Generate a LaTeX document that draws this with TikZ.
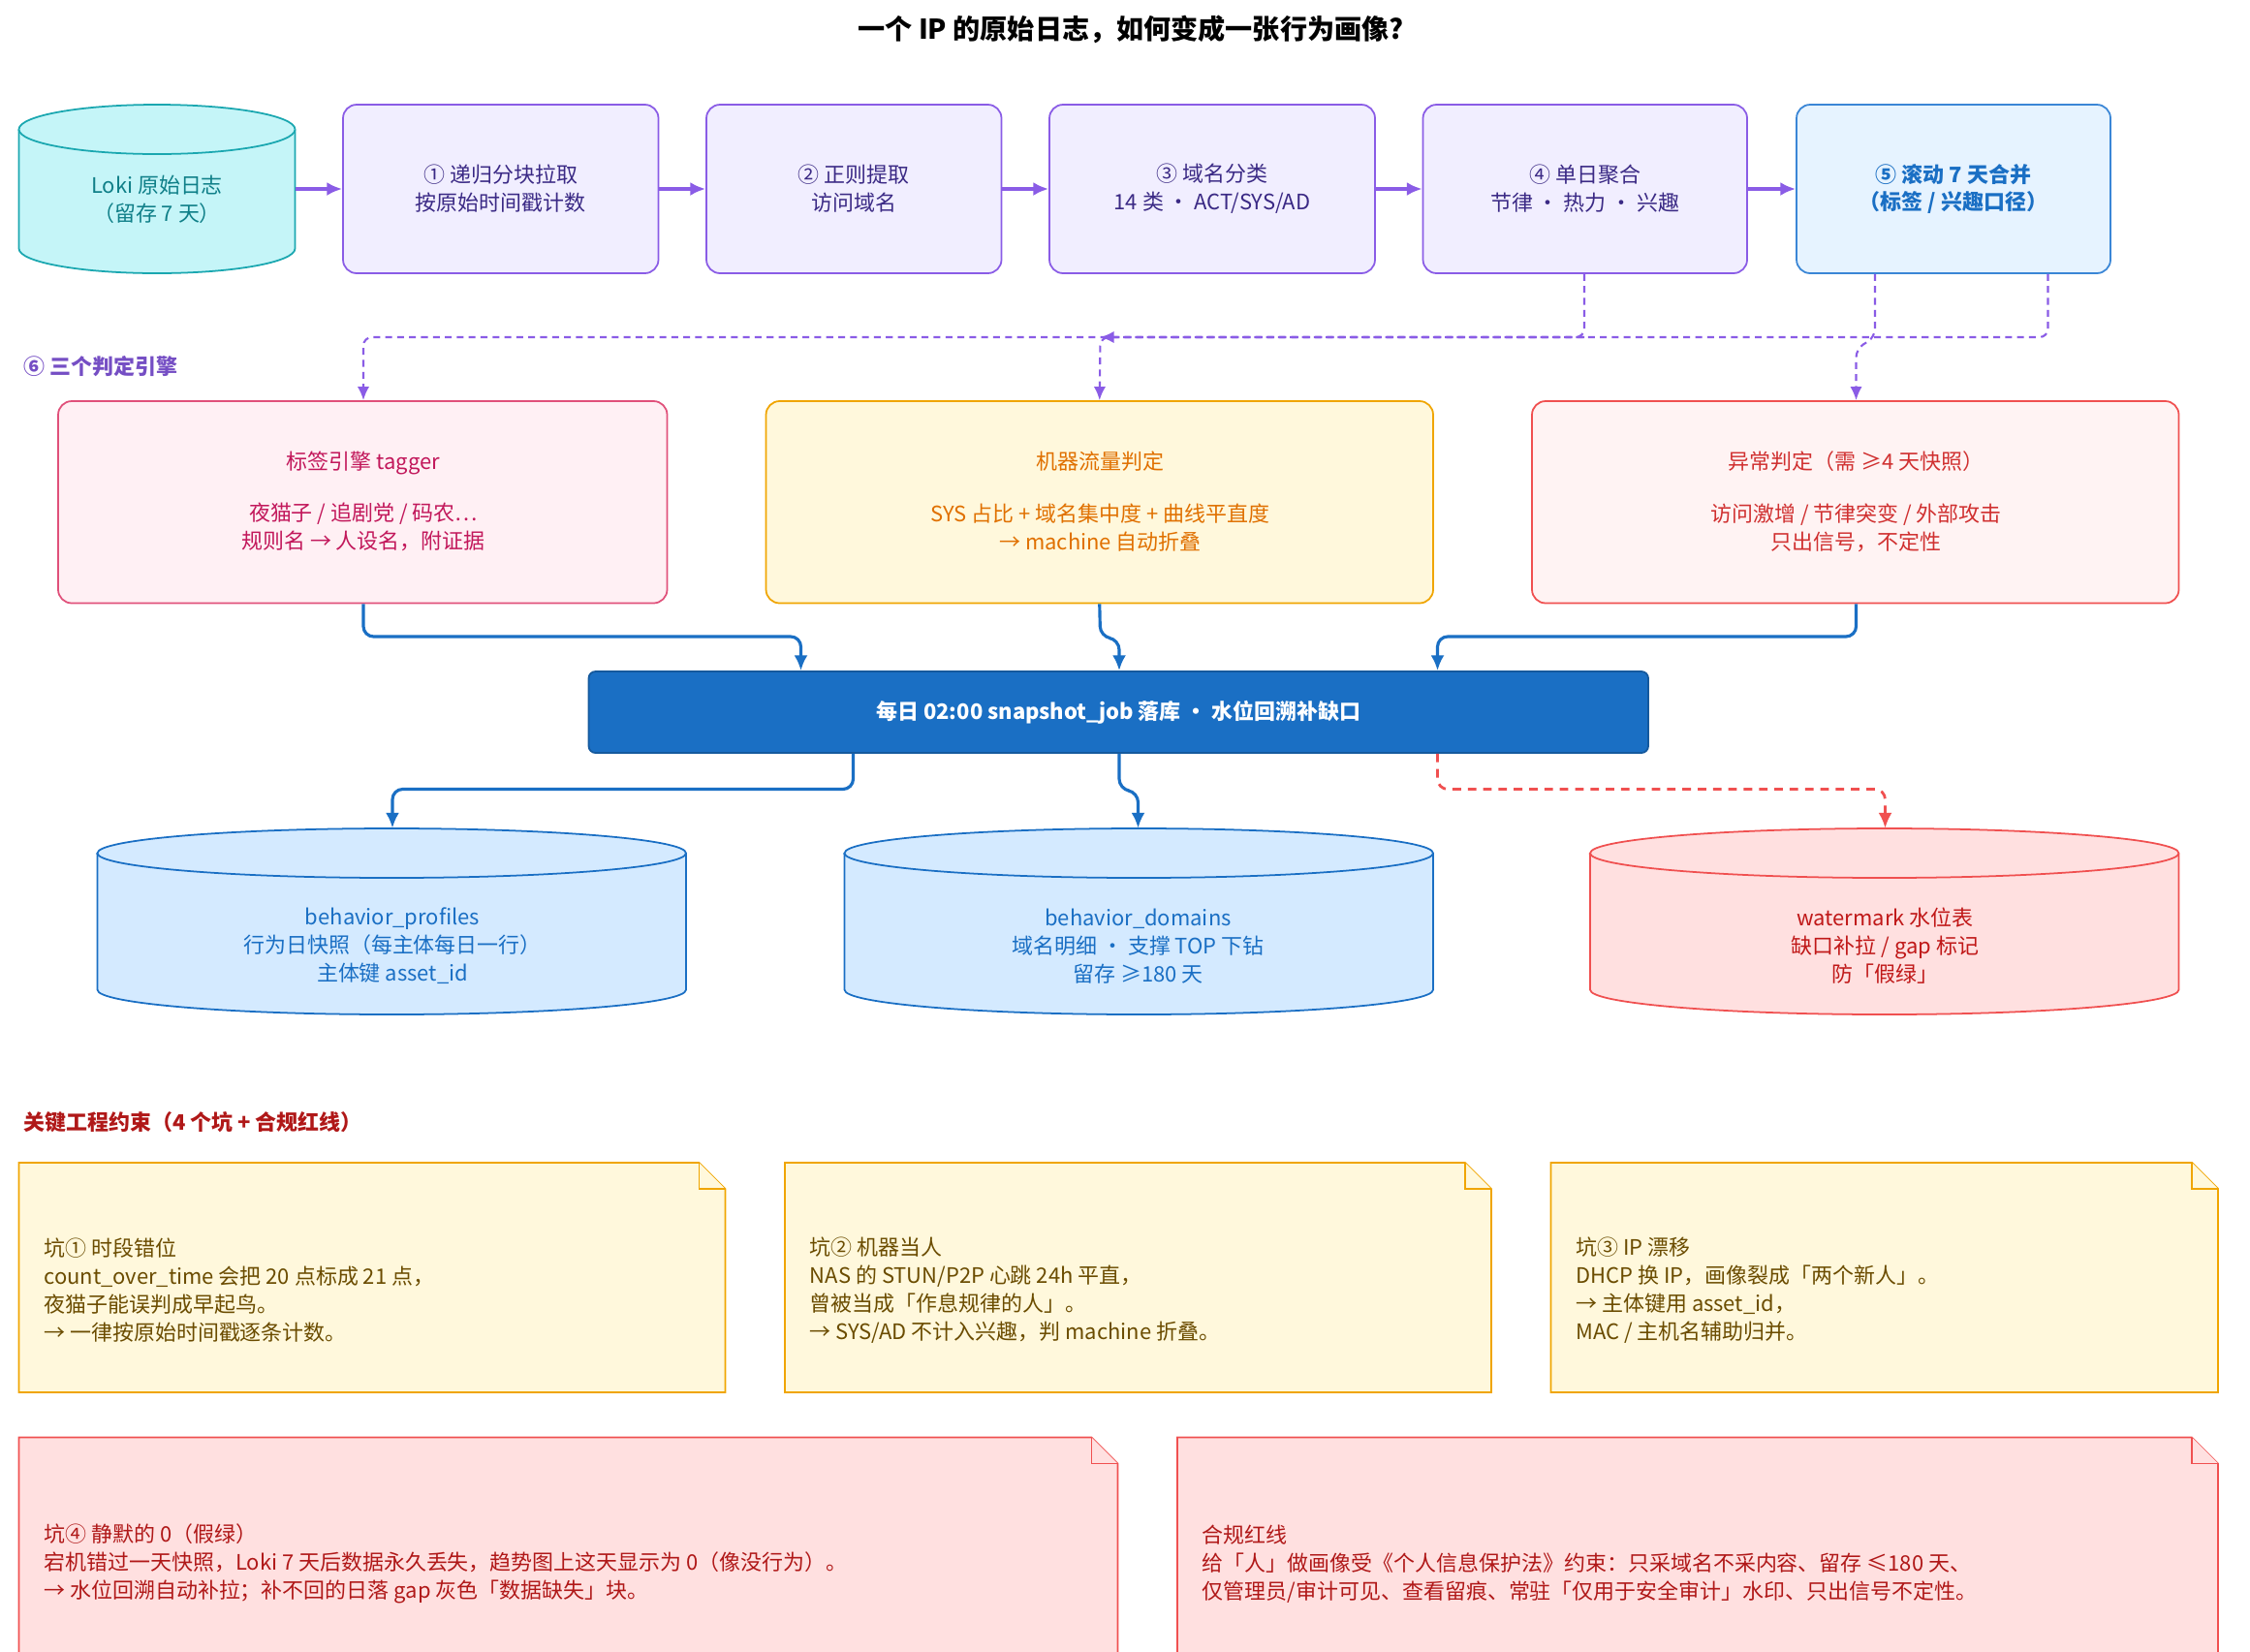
\documentclass[tikz,border=0pt]{standalone}
\usepackage{fontspec}
\setmainfont{Noto Sans CJK SC}
\usetikzlibrary{fit,arrows.meta}
\definecolor{pfill}{HTML}{F1EEFF}\definecolor{pdraw}{HTML}{8A5CE6}\definecolor{ptext}{HTML}{3B2A85}
\definecolor{bfill}{HTML}{E6F3FF}\definecolor{bdraw}{HTML}{3A86D6}\definecolor{btext}{HTML}{1A6FC4}
\definecolor{cfill}{HTML}{C5F5F8}\definecolor{cdraw}{HTML}{1AA7B0}\definecolor{ctext}{HTML}{0F7F88}
\definecolor{tfill}{HTML}{FFF0F4}\definecolor{tdraw}{HTML}{E0507A}\definecolor{ttext}{HTML}{C2185B}
\definecolor{yfill}{HTML}{FFF8DC}\definecolor{ydraw}{HTML}{F0A500}\definecolor{ytext}{HTML}{E07000}
\definecolor{rfill}{HTML}{FFF3F3}\definecolor{rdraw}{HTML}{F05050}\definecolor{rtext}{HTML}{D03030}
\definecolor{dbfill}{HTML}{D4EAFF}\definecolor{snap}{HTML}{1A6FC4}
\definecolor{rrfill}{HTML}{FFE0E0}\definecolor{rrtext}{HTML}{C01818}
\definecolor{ntext}{HTML}{6B4C00}\definecolor{nrtext}{HTML}{B01818}
\newcommand\dbcyl[5]{%
 \pgfmathsetmacro\rx{(#3-#1)/2*0.03}%
 \pgfmathsetmacro\cx{(#1+#3)/2}%
 \filldraw[#5,line width=1pt] (#1,#2+17) -- (#1,#4-17) arc[start angle=180,end angle=360,x radius=\rx cm,y radius=0.51cm] -- (#3,#2+17) arc[start angle=0,end angle=180,x radius=\rx cm,y radius=0.51cm] -- cycle;
 \draw[#5,line width=1pt] (#1,#2+17) arc[start angle=180,end angle=360,x radius=\rx cm,y radius=0.51cm];}
\newcommand\dognote[5]{%
 \filldraw[#5,line width=1pt] (#1,#2) -- (#3-18,#2) -- (#3,#2+18) -- (#3,#4) -- (#1,#4) -- cycle;
 \draw[#5,line width=1pt] (#3-18,#2) -- (#3-18,#2+18) -- (#3,#2+18);}
\begin{document}
\begin{tikzpicture}[x=0.03cm,y=-0.03cm,
 every node/.style={font=\fontsize{12.5}{16.5}\selectfont,align=center,inner sep=0pt},
 box/.style={draw,rounded corners=8pt,line width=1pt},
 pbox/.style={box,fill=pfill,draw=pdraw,text=ptext},
 eng/.style={box,line width=1pt},
 parr/.style={-{Latex[length=9pt,width=8pt]},pdraw,line width=2pt},
 pdash/.style={-{Latex[length=8pt,width=7pt]},pdraw,line width=1.2pt,dash pattern=on 4pt off 3pt,rounded corners=5pt},
 barr/.style={-{Latex[length=9pt,width=8pt]},snap,line width=1.8pt,rounded corners=6pt},
 rdash/.style={-{Latex[length=9pt,width=8pt]},rdraw,line width=1.6pt,dash pattern=on 5pt off 4pt,rounded corners=6pt},
 ntxt/.style={align=left,anchor=west}]
\useasboundingbox (0,0) rectangle (1548,1136);
\fill[white] (0,0) rectangle (1548,1136);
\node (title) at (778,20) {\fontsize{16}{20}\selectfont\bfseries 一个 IP 的原始日志，如何变成一张行为画像?};
% top row
\dbcyl{13}{72}{203}{188}{fill=cfill,draw=cdraw}
\node[fit={(13,72)(203,188)},text=ctext] (loki) {\\[6pt]Loki 原始日志\\（留存 7 天）};
\node[pbox,fit={(236,72)(453,188)}] (s1) {};
\node[text=ptext] at (s1) {① 递归分块拉取\\按原始时间戳计数};
\node[pbox,fit={(486,72)(689,188)}] (s2) {};
\node[text=ptext] at (s2) {② 正则提取\\访问域名};
\node[pbox,fit={(722,72)(946,188)}] (s3) {};
\node[text=ptext] at (s3) {③ 域名分类\\14 类 · ACT/SYS/AD};
\node[pbox,fit={(979,72)(1202,188)}] (s4) {};
\node[text=ptext] at (s4) {④ 单日聚合\\节律 · 热力 · 兴趣};
\node[box,fill=bfill,draw=bdraw,fit={(1236,72)(1452,188)}] (s5) {};
\node[text=btext,font=\fontsize{12.5}{16.5}\selectfont\bfseries] at (s5) {⑤ 滚动 7 天合并\\（标签 / 兴趣口径）};
\draw[parr] (203,130) -- (s1.west);
\draw[parr] (s1) -- (s2);
\draw[parr] (s2) -- (s3);
\draw[parr] (s3) -- (s4);
\draw[parr] (s4) -- (s5);
\node[anchor=west,text=pdraw!85!black,font=\fontsize{12.5}{16.5}\selectfont\bfseries] (six) at (16,252) {⑥ 三个判定引擎};
% engines
\node[eng,fill=tfill,draw=tdraw,fit={(40,276)(459,415)}] (tag) {};
\node[text=ttext] at (250,345) {标签引擎 tagger\\[14pt]夜猫子 / 追剧党 / 码农…\\规则名 → 人设名，附证据};
\node[eng,fill=yfill,draw=ydraw,fit={(527,276)(986,415)}] (mac) {};
\node[text=ytext] at (757,345) {机器流量判定\\[14pt]SYS 占比 + 域名集中度 + 曲线平直度\\→ machine 自动折叠};
\node[eng,fill=rfill,draw=rdraw,fit={(1054,276)(1499,415)}] (ano) {};
\node[text=rtext] at (1277,345) {异常判定（需 ≥4 天快照）\\[14pt]访问激增 / 节律突变 / 外部攻击\\只出信号，不定性};
\draw[pdash] (s4.south -| 1090,0) -- (1090,232) -- (250,232) -- (tag.north -| 250,0);
\draw[pdash] (1090,232) -- (757,232) -- (mac.north);
\draw[pdash] (s5.south -| 1290,0) -- (1290,232) -- (1277,240) -- (ano.north -| 1277,0);
\draw[pdash] (s5.south -| 1409,0) -- (1409,232) -- (757,232);
% snapshot
\node[box,rounded corners=4pt,fill=snap,draw=snap!80!black,fit={(405,462)(1134,518)}] (snapnode) {};
\node[text=white,font=\fontsize{12.5}{16.5}\selectfont\bfseries] at (snapnode) {每日 02:00 snapshot\_job 落库 · 水位回溯补缺口};
\draw[barr] (tag.south -| 250,0) -- (250,438) -- (551,438) -- (snapnode.north -| 551,0);
\draw[barr] (mac.south) -- (757,438) -- (770,440) -- (snapnode.north -| 770,0);
\draw[barr] (ano.south -| 1277,0) -- (1277,438) -- (989,438) -- (snapnode.north -| 989,0);
% dbs
\dbcyl{67}{570}{472}{698}{fill=dbfill,draw=snap}
\node[fit={(67,570)(472,698)},text=btext] (db1) {};
\node[text=btext] at (270,651) {behavior\_profiles\\行为日快照（每主体每日一行）\\主体键 asset\_id};
\dbcyl{581}{570}{986}{698}{fill=dbfill,draw=snap}
\node[fit={(581,570)(986,698)}] (db2) {};
\node[text=btext] at (783,651) {behavior\_domains\\域名明细 · 支撑 TOP 下钻\\留存 ≥180 天};
\dbcyl{1094}{570}{1499}{698}{fill=rrfill,draw=rdraw}
\node[fit={(1094,570)(1499,698)}] (db3) {};
\node[text=rrtext] at (1297,651) {watermark 水位表\\缺口补拉 / gap 标记\\防「假绿」};
\draw[barr] (snapnode.south -| 587,0) -- (587,543) -- (270,543) -- (db1.north -| 270,0);
\draw[barr] (snapnode.south -| 770,0) -- (770,543) -- (783,545) -- (db2.north -| 783,0);
\draw[rdash] (snapnode.south -| 989,0) -- (989,543) -- (1297,543) -- (db3.north -| 1297,0);
% constraints
\node[anchor=west,text=nrtext,font=\fontsize{12.5}{16.5}\selectfont\bfseries] (hdr) at (16,772) {关键工程约束（4 个坑 + 合规红线）};
\dognote{13}{800}{499}{958}{fill=yfill,draw=ydraw}
\node[ntxt,text=ntext] (n1) at (30,888) {坑① 时段错位\\count\_over\_time 会把 20 点标成 21 点，\\夜猫子能误判成早起鸟。\\→ 一律按原始时间戳逐条计数。};
\dognote{540}{800}{1026}{958}{fill=yfill,draw=ydraw}
\node[ntxt,text=ntext] (n2) at (557,888) {坑② 机器当人\\NAS 的 STUN/P2P 心跳 24h 平直，\\曾被当成「作息规律的人」。\\→ SYS/AD 不计入兴趣，判 machine 折叠。};
\dognote{1067}{800}{1526}{958}{fill=yfill,draw=ydraw}
\node[ntxt,text=ntext] (n3) at (1084,888) {坑③ IP 漂移\\DHCP 换 IP，画像裂成「两个新人」。\\→ 主体键用 asset\_id，\\MAC / 主机名辅助归并。};
\dognote{13}{989}{769}{1147}{fill=rrfill,draw=rdraw}
\node[ntxt,text=nrtext] (n4) at (30,1076) {坑④ 静默的 0（假绿）\\宕机错过一天快照，Loki 7 天后数据永久丢失，趋势图上这天显示为 0（像没行为）。\\→ 水位回溯自动补拉；补不回的日落 gap 灰色「数据缺失」块。};
\dognote{810}{989}{1526}{1147}{fill=rrfill,draw=rdraw}
\node[ntxt,text=nrtext] (n5) at (827,1076) {合规红线\\给「人」做画像受《个人信息保护法》约束：只采域名不采内容、留存 ≤180 天、\\仅管理员/审计可见、查看留痕、常驻「仅用于安全审计」水印、只出信号不定性。};
\end{tikzpicture}
\end{document}
